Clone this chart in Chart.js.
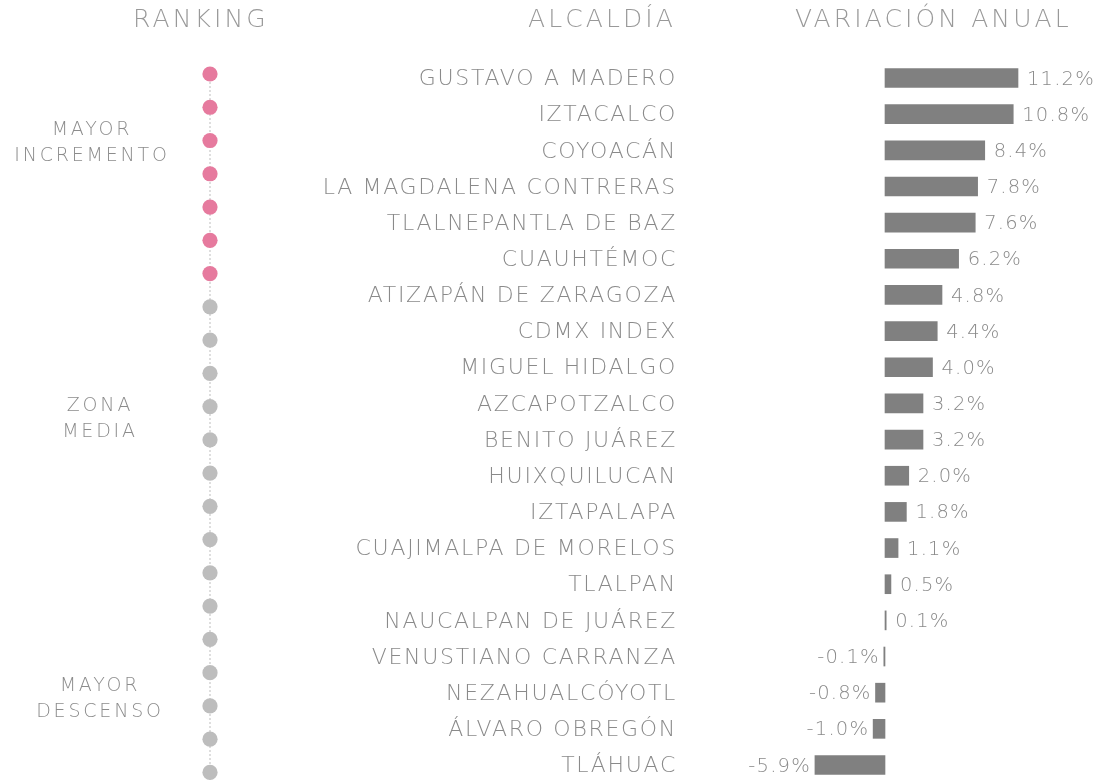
<!DOCTYPE html>
<html><head><meta charset="utf-8">
<script src="https://cdn.jsdelivr.net/npm/chart.js@4.4.1/dist/chart.umd.min.js"></script>
<style>
html,body{margin:0;padding:0;background:#fff;width:1106px;height:780px;overflow:hidden;font-family:"DejaVu Sans",sans-serif;font-weight:200;}
#wrap{position:relative;width:1106px;height:780px;}
#bars{position:absolute;left:0;top:0;}
#rank{position:absolute;left:190px;top:0;}
.t{position:absolute;color:#999;font-size:25px;letter-spacing:3.1px;white-space:nowrap;line-height:1;}
.g{position:absolute;color:#8c8c8c;font-size:19px;letter-spacing:2.8px;text-align:center;line-height:26px;width:200px;}
</style></head><body>
<div id="wrap">
<canvas id="bars" width="1106" height="780"></canvas>
<canvas id="rank" width="40" height="780"></canvas>
<div class="t" style="left:133px;top:6px;">RANKING</div>
<div class="t" style="left:528px;top:6px;">ALCALDÍA</div>
<div class="t" style="left:795px;top:6px;">VARIACIÓN ANUAL</div>
<div class="g" style="left:-8px;top:115px;">MAYOR<br>INCREMENTO</div>
<div class="g" style="left:0px;top:391px;">ZONA<br>MEDIA</div>
<div class="g" style="left:0px;top:671px;">MAYOR<br>DESCENSO</div>
</div>
<script>
const categories = ["GUSTAVO A MADERO","IZTACALCO","COYOACÁN","LA MAGDALENA CONTRERAS","TLALNEPANTLA DE BAZ","CUAUHTÉMOC","ATIZAPÁN DE ZARAGOZA","CDMX INDEX","MIGUEL HIDALGO","AZCAPOTZALCO","BENITO JUÁREZ","HUIXQUILUCAN","IZTAPALAPA","CUAJIMALPA DE MORELOS","TLALPAN","NAUCALPAN DE JUÁREZ","VENUSTIANO CARRANZA","NEZAHUALCÓYOTL","ÁLVARO OBREGÓN","TLÁHUAC"];
const variation = [11.2,10.8,8.4,7.8,7.6,6.2,4.8,4.4,4.0,3.2,3.2,2.0,1.8,1.1,0.5,0.1,-0.1,-0.8,-1.0,-5.9];
const valueLabels = ["11.2%","10.8%","8.4%","7.8%","7.6%","6.2%","4.8%","4.4%","4.0%","3.2%","3.2%","2.0%","1.8%","1.1%","0.5%","0.1%","-0.1%","-0.8%","-1.0%","-5.9%"];
const rankPositions = [0,1,2,3,4,5,6,7,8,9,10,11,12,13,14,15,16,17,18,19,20,21];
const rankGroup = ["up","up","up","up","up","up","up","mid","mid","mid","mid","mid","mid","mid","mid","mid","mid","mid","mid","mid","mid","mid"];

const FONT = "'DejaVu Sans'";
const labelPlugin = {
  id:'labels',
  afterDatasetsDraw(chart){
    const ctx = chart.ctx, x = chart.scales.x, y = chart.scales.y;
    ctx.save();
    ctx.textBaseline = "middle";
    ctx.font = "200 22px " + FONT;
    ctx.letterSpacing = "1.7px";
    ctx.fillStyle = "#8a8a8a";
    ctx.textAlign = "right";
    categories.forEach((c,i)=>{ ctx.fillText(c, 677, y.getPixelForValue(i) + 1.5); });
    ctx.font = "200 19.5px " + FONT;
    ctx.letterSpacing = "1.2px";
    variation.forEach((v,i)=>{
      const px = x.getPixelForValue(v), py = y.getPixelForValue(i) + 1.5;
      if (v >= 0){ ctx.textAlign="left"; ctx.fillText(valueLabels[i], px+9, py); }
      else { ctx.textAlign="right"; ctx.fillText(valueLabels[i], px-4, py); }
    });
    ctx.restore();
  }
};

new Chart(document.getElementById('bars'), {
  type:'bar',
  data:{labels:categories, datasets:[{data:variation, backgroundColor:"#808080", barThickness:19, clip:false}]},
  options:{
    indexAxis:'y', responsive:false, animation:false, devicePixelRatio:1,
    layout:{padding:{left:790,right:31,top:78,bottom:15}},
    plugins:{legend:{display:false}, tooltip:{enabled:false}},
    scales:{
      x:{type:'linear', min:-8, max:16, display:false},
      y:{type:'category', offset:false, display:false}
    }
  },
  plugins:[labelPlugin]
});

new Chart(document.getElementById('rank'), {
  type:'scatter',
  data:{datasets:[
    {data:rankPositions.map(r=>({x:0.5,y:r})), pointRadius:7.6, pointHoverRadius:7.6, clip:false,
     pointBackgroundColor:rankGroup.map(g=>g==="up"?"#e67a9e":"#bdbdbd"), pointBorderWidth:0, order:0},
    {data:[{x:0.5,y:0},{x:0.5,y:21.3}], showLine:true, borderColor:"#c8c8c8", borderWidth:1.2, borderDash:[2,2], pointRadius:0, order:1, clip:false}
  ]},
  options:{
    responsive:false, animation:false, devicePixelRatio:1,
    layout:{padding:{left:0,right:0,top:74,bottom:7}},
    plugins:{legend:{display:false}, tooltip:{enabled:false}},
    scales:{x:{min:0,max:1,display:false}, y:{min:0,max:21,reverse:true,display:false}}
  }
});
</script>
</body></html>
